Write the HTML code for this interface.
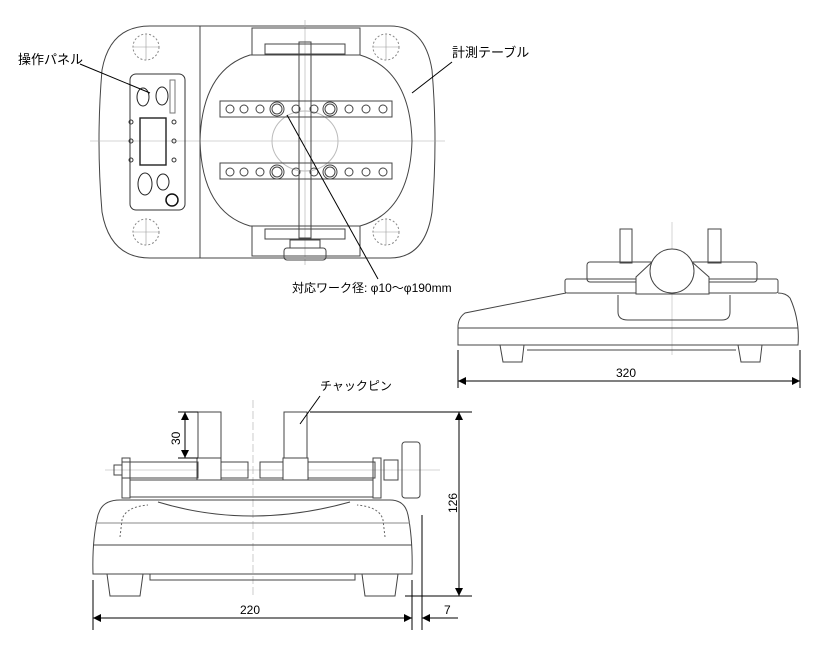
<!DOCTYPE html>
<html><head><meta charset="utf-8"><style>
html,body{margin:0;padding:0;background:#fff}
svg{display:block}
text{font-family:"Liberation Sans","Noto Sans CJK JP",sans-serif;fill:#000}
</style></head><body>
<svg width="820" height="650" viewBox="0 0 820 650" xmlns="http://www.w3.org/2000/svg">
<defs>
<marker id="a" viewBox="0 0 10 10" refX="10" refY="5" markerWidth="10" markerHeight="8" orient="auto-start-reverse" markerUnits="userSpaceOnUse"><path d="M0,0 L10,5 L0,10z" fill="#000"/></marker>
</defs>
<g fill="none" stroke="#444" stroke-width="1">
<!-- TOP VIEW -->
<path d="M150,26 L390,26 Q425,26 432,70 Q438,141 432,212 Q425,258 390,258 L150,258 Q110,258 102,212 Q96,141 102,70 Q110,26 150,26Z"/>
<line x1="200" y1="26" x2="200" y2="258"/>
<line x1="90" y1="141" x2="445" y2="141" stroke="#aaa" stroke-width="0.6"/>
<line x1="305" y1="20" x2="305" y2="265" stroke="#aaa" stroke-width="0.6"/>
<g stroke-dasharray="2,2" stroke="#888">
<circle cx="146" cy="47" r="13"/><circle cx="386" cy="47" r="13"/><circle cx="146" cy="232" r="13"/><circle cx="386" cy="232" r="13"/>
</g>
<g stroke="#999" stroke-width="0.6"><line x1="146" y1="34" x2="146" y2="60"/><line x1="133" y1="47" x2="159" y2="47"/><line x1="386" y1="34" x2="386" y2="60"/><line x1="373" y1="47" x2="399" y2="47"/><line x1="146" y1="219" x2="146" y2="245"/><line x1="133" y1="232" x2="159" y2="232"/><line x1="386" y1="219" x2="386" y2="245"/><line x1="373" y1="232" x2="399" y2="232"/></g>
<path d="M250,55 L360,55 Q410,70 412,141 Q410,212 360,226 L250,226 Q202,212 200,141 Q202,70 250,55Z"/>
<path d="M252,55 L252,28 L360,28 L360,55"/>
<path d="M252,226 L252,256 L360,256 L360,226"/>
<rect x="265" y="44" width="80" height="10"/><rect x="265" y="229" width="80" height="10"/>
<rect x="299" y="42" width="12" height="196"/>
<rect x="290" y="240" width="30" height="8"/><rect x="284" y="248" width="42" height="12" rx="3"/>
<ellipse cx="305" cy="141" rx="33" ry="30" stroke="#bbb"/>
<rect x="220" y="101" width="172" height="16"/><rect x="220" y="163" width="172" height="16"/>
<g stroke="#444">
<circle cx="230" cy="109" r="4"/><circle cx="244" cy="109" r="4"/><circle cx="260" cy="109" r="4"/><circle cx="277" cy="109" r="7"/><circle cx="277" cy="109" r="5"/><circle cx="296" cy="109" r="4"/><circle cx="314" cy="109" r="4"/><circle cx="330" cy="109" r="7"/><circle cx="330" cy="109" r="5"/><circle cx="349" cy="109" r="4"/><circle cx="366" cy="109" r="4"/><circle cx="383" cy="109" r="4"/>
<circle cx="230" cy="172" r="4"/><circle cx="244" cy="172" r="4"/><circle cx="260" cy="172" r="4"/><circle cx="277" cy="172" r="7"/><circle cx="277" cy="172" r="5"/><circle cx="296" cy="172" r="4"/><circle cx="314" cy="172" r="4"/><circle cx="330" cy="172" r="7"/><circle cx="330" cy="172" r="5"/><circle cx="349" cy="172" r="4"/><circle cx="366" cy="172" r="4"/><circle cx="383" cy="172" r="4"/>
</g>
<!-- panel -->
<rect x="130" y="74" width="55" height="136" rx="6" stroke="#333"/>
<rect x="140" y="118" width="26" height="47" stroke="#222" stroke-width="1.4"/>
<ellipse cx="143" cy="97" rx="6" ry="9" stroke="#222"/><ellipse cx="162" cy="96" rx="6" ry="9" stroke="#222"/>
<rect x="170" y="80" width="5" height="33" stroke="#777"/>
<ellipse cx="145" cy="184" rx="7" ry="11" stroke="#222"/><ellipse cx="163" cy="182" rx="6" ry="8" stroke="#222"/>
<circle cx="172" cy="200" r="6" stroke="#111" stroke-width="1.5"/>
<g stroke="#333"><circle cx="131" cy="122" r="2"/><circle cx="131" cy="141" r="2"/><circle cx="131" cy="160" r="2"/><circle cx="174" cy="122" r="2"/><circle cx="174" cy="141" r="2"/><circle cx="174" cy="160" r="2"/></g>
<!-- SIDE VIEW -->
<line x1="672" y1="222" x2="672" y2="355" stroke="#bbb" stroke-width="0.6"/>
<rect x="620" y="229" width="12" height="34"/><rect x="708" y="229" width="13" height="34"/>
<rect x="587" y="262" width="170" height="20" rx="3"/>
<rect x="565" y="279" width="213" height="14" rx="2"/>
<path d="M636,292 L636,277 L652,262 L692,262 L709,277 L709,294 L636,294Z" fill="#fff"/>
<circle cx="672" cy="271" r="22" fill="#fff"/>
<path d="M618,295 L618,312 Q618,320 628,320 L722,320 Q730,320 730,312 L730,295"/>
<path d="M566,293 L465,313 Q458,318 458,327 L458,345 L798,345 Q800,320 790,298 Q786,293 778,293"/>
<line x1="458" y1="328" x2="798" y2="328"/>
<path d="M500,345 L503,362 L522,362 L524,345 M738,345 L741,362 L760,362 L762,345 M527,350 L736,350"/>
<!-- FRONT VIEW -->
<line x1="253" y1="400" x2="253" y2="595" stroke="#aaa" stroke-width="0.6" stroke-dasharray="8,3"/>
<line x1="105" y1="470" x2="440" y2="470" stroke="#aaa" stroke-width="0.6"/>
<rect x="198" y="412" width="23" height="46"/><rect x="284" y="412" width="23" height="46"/>
<rect x="197" y="458" width="24" height="22" fill="#fff"/><rect x="283" y="458" width="25" height="22" fill="#fff"/>
<rect x="122" y="462" width="76" height="16"/><rect x="221" y="462" width="27" height="16"/><rect x="260" y="462" width="23" height="16"/><rect x="308" y="462" width="67" height="16"/>
<rect x="122" y="458" width="8" height="40"/><rect x="373" y="458" width="8" height="40"/>
<rect x="130" y="480" width="243" height="17"/>
<rect x="114" y="465" width="8" height="10"/><rect x="384" y="460" width="14" height="20"/>
<rect x="402" y="442" width="18" height="56" rx="3"/>
<path d="M100,510 Q105,500 120,500 L390,500 Q405,500 408,515 Q413,540 412,574 L93,574 Q92,540 98,515Z"/>
<line x1="95" y1="523" x2="410" y2="523" stroke="#888"/>
<line x1="93" y1="545" x2="412" y2="545"/>
<path d="M158,502 Q250,530 350,502"/>
<g stroke-dasharray="2,2" stroke="#666"><path d="M120,537 L122,520 Q125,507 148,505 M385,537 L383,520 Q380,507 357,505"/></g>
<path d="M107,574 L110,596 L140,596 L143,574 M362,574 L365,596 L395,596 L398,574 M150,574 L150,580 L355,580 L355,574"/>
</g>
<!-- leaders -->
<g stroke="#000" stroke-width="1">
<line x1="80" y1="64" x2="150" y2="93"/>
<line x1="452" y1="62" x2="412" y2="93"/>
<line x1="287" y1="115" x2="378" y2="279"/>
<line x1="300" y1="424" x2="320" y2="396"/>
<line x1="458" y1="350" x2="458" y2="388"/><line x1="800" y1="350" x2="800" y2="388"/>
<line x1="458" y1="381" x2="800" y2="381" marker-start="url(#a)" marker-end="url(#a)"/>
<line x1="93" y1="580" x2="93" y2="630"/><line x1="412" y1="580" x2="412" y2="630"/><line x1="422" y1="515" x2="422" y2="630"/>
<line x1="93" y1="618" x2="412" y2="618" marker-start="url(#a)" marker-end="url(#a)"/>
<line x1="458" y1="618" x2="422" y2="618" marker-end="url(#a)"/>
<line x1="310" y1="412" x2="472" y2="412"/><line x1="405" y1="596" x2="472" y2="596"/>
<line x1="459" y1="412" x2="459" y2="596" marker-start="url(#a)" marker-end="url(#a)"/>
<line x1="178" y1="412" x2="198" y2="412"/><line x1="178" y1="458" x2="198" y2="458"/>
<line x1="185" y1="412" x2="185" y2="458" marker-start="url(#a)" marker-end="url(#a)"/>
</g>
<text x="18" y="64" font-size="13">操作パネル</text>
<text x="452" y="57" font-size="13">計測テーブル</text>
<text x="292" y="292" font-size="12">対応ワーク径: φ10〜φ190mm</text>
<text x="320" y="390" font-size="12">チャックピン</text>
<text x="616" y="377" font-size="12">320</text>
<text x="240" y="614" font-size="12">220</text>
<text x="444" y="614" font-size="12">7</text>
<text transform="translate(457,513) rotate(-90)" font-size="12">126</text>
<text transform="translate(180,445) rotate(-90)" font-size="12">30</text>
</svg>
</body></html>
